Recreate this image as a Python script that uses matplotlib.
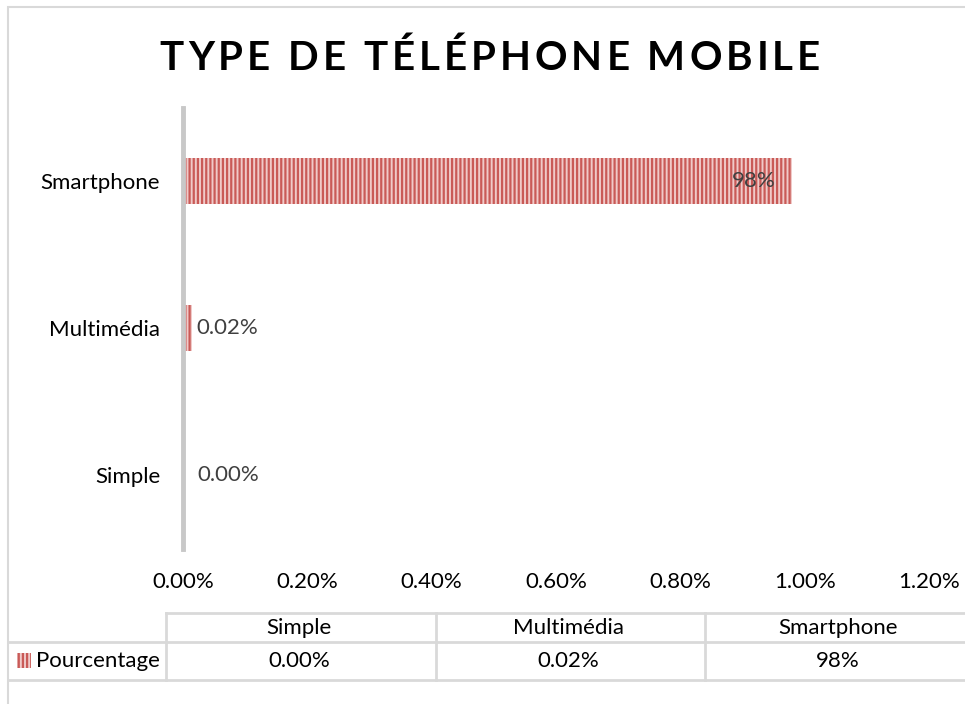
import matplotlib
matplotlib.use("Agg")
from matplotlib import pyplot as plt
from matplotlib.lines import Line2D
from matplotlib.patches import Rectangle
import numpy as np

categories = ["Simple", "Multimédia", "Smartphone"]
values = [0.0015, 0.015, 0.98]          # in % units, as on the axis
bar_labels = ["0.00%", "0.02%", "98%"]
table_values = ["0.00%", "0.02%", "98%"]
series_name = "Pourcentage"
title = "TYPE DE TÉLÉPHONE MOBILE"
xticks = [0.0, 0.2, 0.4, 0.6, 0.8, 1.0, 1.2]

W, H = 965, 704
FONT = ["Lato", "DejaVu Sans"]
BAR_FACE = "#f0cac9"
BAR_HATCH = "#c95a57"
GRID = "#d9d9d9"
FS = 16

plt.rcParams["font.family"] = FONT
plt.rcParams["hatch.linewidth"] = 1.6
plt.rcParams["hatch.color"] = BAR_HATCH

fig = plt.figure(figsize=(W / 100, H / 100), dpi=100)

def fx(px):
    return px / W

def fy(py):
    return 1 - py / H

# chart border (cropped at right and bottom)
fig.add_artist(Rectangle((fx(8), fy(720)), fx(1000) - fx(8), fy(7) - fy(720),
                         transform=fig.transFigure, fill=False, edgecolor=GRID, lw=1.5))

ax = fig.add_axes([fx(183), fy(548.5), fx(929) - fx(183), fy(107.5) - fy(548.5)])
ypos = np.arange(len(categories))
bars = ax.barh(ypos, values, height=0.31, color=BAR_FACE, edgecolor=BAR_HATCH,
               hatch="||||", linewidth=0)
ax.set_xlim(0, 1.2)
ax.set_ylim(-0.5, 2.5)
ax.set_yticks(ypos)
ax.set_yticklabels(categories, fontsize=FS, color="#000000")
ax.set_xticks(xticks)
ax.set_xticklabels([f"{t:.2f}%" for t in xticks], fontsize=FS, color="#000000")
ax.tick_params(axis="both", length=0)
ax.tick_params(axis="y", pad=16.5)
ax.tick_params(axis="x", pad=17)
for s in ["top", "right", "bottom"]:
    ax.spines[s].set_visible(False)
ax.spines["left"].set_color("#c8c8c8")
ax.spines["left"].set_linewidth(3.5)
ax.spines["left"].set_zorder(5)

for b, v, lab in zip(bars, values, bar_labels):
    yc = b.get_y() + b.get_height() / 2
    if v > 0.5:
        ax.annotate(lab, (v, yc), xytext=(-12, 0), textcoords="offset points",
                    ha="right", va="center", fontsize=FS, color="#404040")
    else:
        ax.annotate(lab, (v, yc), xytext=(10 - v * 450, 0), textcoords="offset points",
                    ha="left", va="center", fontsize=FS, color="#404040")

# title with letter spacing
renderer = fig.canvas.get_renderer()
tprops = dict(fontsize=29, fontweight="bold", family=["Lato", "DejaVu Sans"], color="#000000")
track = 4.0

def text_w(s):
    t = fig.text(0, 0, s, **tprops)
    w = t.get_window_extent(renderer).width
    t.remove()
    return w

positions = []
for i, ch in enumerate(title):
    if ch == " ":
        continue
    left = text_w(title[:i + 1]) - text_w(ch) + i * track
    positions.append((left, ch))
total = positions[-1][0] + text_w(positions[-1][1])
x0 = 490 - total / 2
for left, ch in positions:
    fig.text(fx(x0 + left), fy(58), ch, ha="left", va="center", **tprops)

# data table
col_edges = [166, 436, 705, 975]
row_top, row_mid, row_bot = 613, 642, 680
lkw = dict(color=GRID, lw=2, transform=fig.transFigure)
fig.add_artist(Line2D([fx(166), fx(975)], [fy(row_top)] * 2, **lkw))
fig.add_artist(Line2D([fx(8), fx(975)], [fy(row_mid)] * 2, **lkw))
fig.add_artist(Line2D([fx(8), fx(975)], [fy(row_bot)] * 2, **lkw))
for cx in col_edges[:3]:
    fig.add_artist(Line2D([fx(cx)] * 2, [fy(row_top), fy(row_bot)], **lkw))
for i, (cat, val) in enumerate(zip(categories, table_values)):
    xc = (col_edges[i] + col_edges[i + 1]) / 2 - 2
    fig.text(fx(xc), fy(628), cat, ha="center", va="center", fontsize=FS)
    fig.text(fx(xc), fy(661), val, ha="center", va="center", fontsize=FS)
fig.add_artist(Rectangle((fx(17), fy(668)), fx(31) - fx(17), fy(653) - fy(668),
                         transform=fig.transFigure, facecolor=BAR_FACE,
                         edgecolor=BAR_HATCH, hatch="||||", lw=0))
fig.text(fx(36), fy(661), series_name, ha="left", va="center", fontsize=FS)

fig.savefig("out.png", dpi=100)
